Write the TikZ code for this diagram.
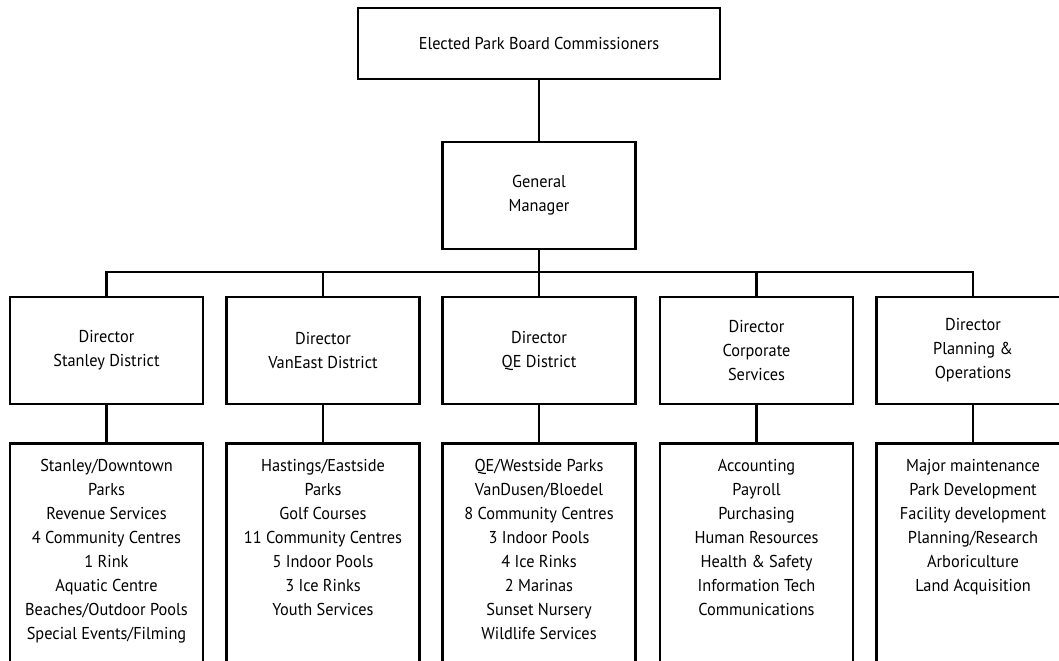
\documentclass[tikz,border=0pt]{standalone}
\usepackage{fontspec}
\setmainfont[FakeStretch=0.95]{PT Sans}

\begin{document}
\begin{tikzpicture}[x=0.5pt,y=-0.5pt,
    box/.style={draw,line width=1.35pt,minimum width=96.5pt,minimum height=53.5pt,align=center,inner sep=0pt},
    unitbox/.style={box,anchor=north,minimum height=125pt},
    link/.style={line width=1.35pt},
    items/.style={anchor=north,align=center,inner sep=0pt,execute at begin node={\strut}},
    every node/.style={font=\fontsize{8.6}{12}\selectfont}]
    \useasboundingbox (0,0) rectangle (1059,660);
    \clip (0,0) rectangle (1059,660);

    \node [box,minimum width=181pt,minimum height=35.5pt] (board) at (539,43.5) {Elected Park Board Commissioners};
    \node [box] (gm) at (539,195.5) {General\\Manager};

    \node [box] (dir1) at (106.5,350.5) {Director\\Stanley District};
    \node [box] (dir2) at (323,350.5) {Director\\VanEast District};
    \node [box] (dir3) at (539,350.5) {Director\\QE District};
    \node [box] (dir4) at (756.5,350.5) {Director\\Corporate\\Services};
    \node [box] (dir5) at (973,350.5) {Director\\Planning \&\\Operations};

    \coordinate (bar) at (539,272);
    \draw [link] (board) -- (gm);
    \draw [link] (gm) -- (bar);
    \draw [link] (dir1.north) |- (bar) -| (dir5.north);
    \foreach \i in {2,3,4} \draw [link] (dir\i.north) -- (dir\i.north |- bar);

    % units under each director, open at the bottom of the page
    \node [unitbox] (unit1) at (106.5,442) {};
    \node [unitbox] (unit2) at (323,442) {};
    \node [unitbox] (unit3) at (539,442) {};
    \node [unitbox] (unit4) at (756.5,442) {};
    \node [unitbox] (unit5) at (973,442) {};
    \foreach \i in {1,...,5} \draw [link] (dir\i) -- (unit\i);

    \node [items] (list1) at (106.5,459) {Stanley/Downtown\\Parks\\Revenue Services\\4 Community Centres\\1 Rink\\Aquatic Centre\\Beaches/Outdoor Pools\\Special Events/Filming};
    \node [items] (list2) at (323,459) {Hastings/Eastside\\Parks\\Golf Courses\\11 Community Centres\\5 Indoor Pools\\3 Ice Rinks\\Youth Services};
    \node [items] (list3) at (539,459) {QE/Westside Parks\\VanDusen/Bloedel\\8 Community Centres\\3 Indoor Pools\\4 Ice Rinks\\2 Marinas\\Sunset Nursery\\Wildlife Services};
    \node [items] (list4) at (756.5,459) {Accounting\\Payroll\\Purchasing\\Human Resources\\Health \& Safety\\Information Tech\\Communications};
    \node [items] (list5) at (973,459) {Major maintenance\\Park Development\\Facility development\\Planning/Research\\Arboriculture\\Land Acquisition};
\end{tikzpicture}
\end{document}
